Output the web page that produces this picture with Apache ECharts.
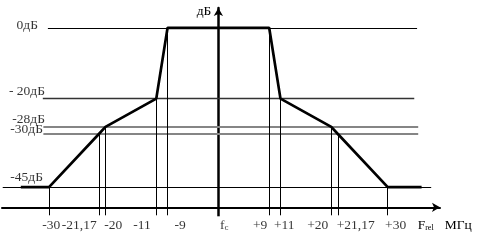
<!DOCTYPE html>
<html>
<head>
<meta charset="utf-8">
<script src="https://cdn.jsdelivr.net/npm/echarts@6/dist/echarts.min.js"></script>
<style>
html,body{margin:0;padding:0;background:#fff;}
#c{width:481px;height:252px;}
</style>
</head>
<body>
<div id="c"></div>
<script>
// ---- data ----
const freqTicks = [-30, -21.17, -20, -11, -9, 0, 9, 11, 20, 21.17, 30];
const tickLabels = ['-30', '-21,17', '-20', '-11', '-9', 'f_c', '+9', '+11', '+20', '+21,17', '+30'];
const maskFreq = [-35, -30, -21.17, -20, -11, -9, 9, 11, 20, 21.17, 30, 36];
const maskLevel = [-45, -45, -30, -28, -20, 0, 0, -20, -28, -30, -45, -45];
const levels = [0, -20, -28, -30, -45];
const levelLabels = ['0дБ', '- 20дБ', '-28дБ', '-30дБ', '-45дБ'];
const levelLineFrom = [-30.2, -31.1, -31.0, -31.0, -38.2];
const levelLineTo = [35.2, 34.7, 35.4, 35.4, 37.7];

// ---- style ----
const FONT = '"Liberation Serif", "Times New Roman", serif';
const FS = 13.5;
const yMin = -50.7, yMax = 5.6, xMin = -38.33, xMax = 39.26;
const levelColor = ['#000', '#333', '#858585', '#858585', '#000'];
const levelWidth = [1, 1.3, 2, 2, 1];
const levelLabelX = -31;
const levelDx = [-5, 2, 2, 0, 0];
const levelDy = [-2.8, -7.6, -7.7, -4.7, -9.6];
const tickAlign = ['left', 'right', 'left', 'right', 'left', 'left', 'right', 'left', 'right', 'left', 'left'];
const tickDx = [-6.7, -2.2, -1.2, -5.6, 7, 1.6, -1.9, -6.5, -3, -1.2, -2.7];

const levelAt = f => maskLevel[maskFreq.indexOf(f)];
const richText = {
  m: {fontFamily: FONT, fontSize: FS, color: '#000'},
  s: {fontFamily: FONT, fontSize: 9, color: '#000', verticalAlign: 'bottom'}
};
const fmtTick = t => t === 'f_c' ? '{m|f}{s|c}' : t;

const chart = echarts.init(document.getElementById('c'), null, {renderer: 'canvas'});
chart.setOption({
  animation: false,
  backgroundColor: '#fff',
  grid: {left: 2, right: 41, top: 8, bottom: 44.7, containLabel: false, outerBoundsMode: 'none'},
  xAxis: [{
    type: 'value', min: xMin, max: xMax,
    axisLine: {show: true, onZero: false, symbol: ['none', 'arrow'], symbolSize: [7, 8],
      lineStyle: {color: '#000', width: 2}},
    axisTick: {show: true, customValues: freqTicks, length: 8, lineStyle: {color: '#000', width: 1}},
    axisLabel: {show: false},
    splitLine: {show: false},
    name: '{F|F}{s|rel}{u|МГц}',
    nameLocation: 'end',
    nameGap: -22.3,
    nameTextStyle: {
      fontFamily: FONT, fontSize: FS, color: '#000', align: 'left', verticalAlign: 'top',
      padding: [11, 0, 0, 0],
      rich: {
        F: {fontFamily: FONT, fontSize: FS, color: '#000'},
        s: {fontFamily: FONT, fontSize: 8, color: '#000', verticalAlign: 'bottom'},
        u: {fontFamily: FONT, fontSize: FS, color: '#000', padding: [0, 0, 0, 11]}
      }
    }
  }, {
    type: 'value', min: xMin, max: xMax, position: 'bottom',
    axisLine: {show: false, onZero: false},
    axisTick: {show: true, customValues: [0], length: 9, lineStyle: {color: '#000', width: 2.5}},
    axisLabel: {show: false},
    splitLine: {show: false}
  }],
  yAxis: {
    type: 'value', min: yMin, max: yMax,
    axisLine: {show: true, onZero: true, symbol: ['none', 'arrow'], symbolSize: [7, 8],
      lineStyle: {color: '#000', width: 2.5}},
    axisTick: {show: false},
    axisLabel: {show: false},
    splitLine: {show: false},
    name: 'дБ',
    nameLocation: 'end',
    nameGap: -3.7,
    nameTextStyle: {fontFamily: FONT, fontSize: FS, color: '#000', align: 'right',
      verticalAlign: 'middle', padding: [0, 7, 0, 0]}
  },
  series: [
    {
      type: 'line', name: 'levels', data: [], z: 1, silent: true,
      markLine: {
        silent: true, animation: false, symbol: ['none', 'none'], label: {show: false},
        data: levels.map((v, i) => [
          {coord: [levelLineFrom[i], v], lineStyle: {color: levelColor[i], width: levelWidth[i], type: 'solid'}},
          {coord: [levelLineTo[i], v]}
        ])
      }
    },
    {
      type: 'line', name: 'drops', data: [], z: 2, silent: true,
      markLine: {
        silent: true, animation: false, symbol: ['none', 'none'], label: {show: false},
        lineStyle: {color: '#000', width: 1, type: 'solid'},
        data: freqTicks.filter(f => f !== 0).map(f => [
          {coord: [f, levelAt(f)]},
          {coord: [f, yMin]}
        ])
      }
    },
    {
      type: 'line', name: 'mask', z: 5, silent: true,
      data: maskFreq.map((f, i) => [f, maskLevel[i]]),
      symbol: 'none',
      lineStyle: {color: '#000', width: 2.7}
    },
    {
      type: 'scatter', name: 'tickLabels', z: 6, silent: true, clip: false,
      symbolSize: 1, itemStyle: {color: 'rgba(0,0,0,0)'},
      data: freqTicks.map((f, i) => ({
        value: [f, yMin],
        label: {align: tickAlign[i], offset: [tickDx[i], 0]}
      })),
      label: {
        show: true, position: 'bottom', distance: 10.5,
        fontFamily: FONT, fontSize: FS, color: '#000',
        formatter: p => fmtTick(tickLabels[p.dataIndex]),
        rich: richText
      }
    },
    {
      type: 'scatter', name: 'levelLabels', z: 6, silent: true, clip: false,
      symbolSize: 1, itemStyle: {color: 'rgba(0,0,0,0)'},
      data: levels.map((v, i) => ({
        value: [levelLabelX, v],
        label: {offset: [levelDx[i], levelDy[i]]}
      })),
      label: {
        show: true, position: 'left', distance: 0, align: 'right',
        fontFamily: FONT, fontSize: FS, color: '#000',
        formatter: p => levelLabels[p.dataIndex]
      }
    }
  ]
});
</script>
</body>
</html>
